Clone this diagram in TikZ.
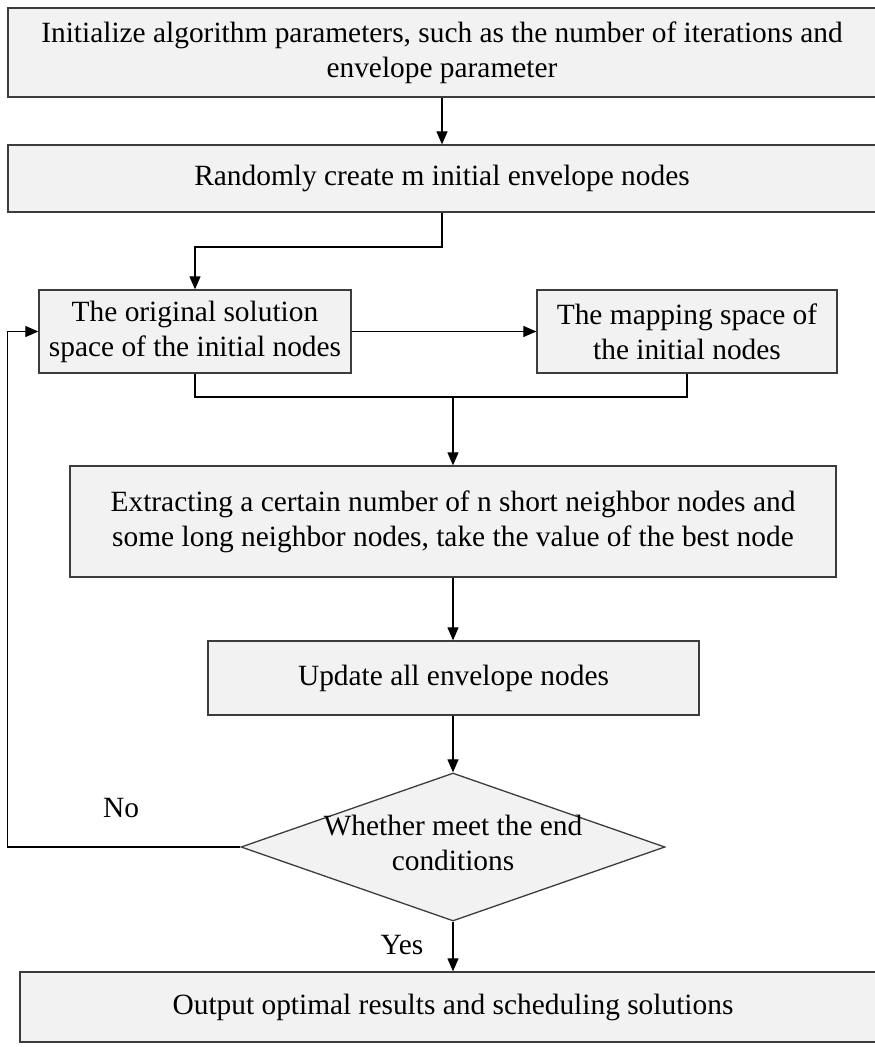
\documentclass[tikz,border=0pt]{standalone}
\usepackage{fontspec}
\setmainfont{Liberation Serif}
\usetikzlibrary{arrows.meta,shapes.geometric}
\definecolor{boxfill}{RGB}{242,242,242}
\definecolor{boxline}{RGB}{60,60,60}
\begin{document}
\begin{tikzpicture}[x=1bp,y=-1bp,
  txt/.style={font=\fontsize{29.5}{35}\selectfont, align=center},
  box/.style={txt, draw=boxline, fill=boxfill, line width=1.3bp, inner sep=0pt},
  link/.style={line width=1.2bp, draw=black},
  arr/.style={link, -{Triangle[length=13bp,width=11bp]}}]
\useasboundingbox (0,0) rectangle (875,1047);

% process boxes
\node[box, minimum width=868bp, minimum height=89bp] (init) at (442,52.5)
  {Initialize algorithm parameters, such as the number of iterations and\\envelope parameter};
\node[box, minimum width=868bp, minimum height=67bp] (create) at (442,178.5)
  {Randomly create m initial envelope nodes};
\node[box, minimum width=312bp, minimum height=83bp] (orig) at (195,331.5)
  {The original solution\\space of the initial nodes};
\node[box, minimum width=300bp, minimum height=83bp] (map) at (687,331.5)
  {The mapping space of\\the initial nodes};
\node[box, minimum width=766bp, minimum height=111bp] (extract) at (453,521.5)
  {Extracting a certain number of n short neighbor nodes and\\some long neighbor nodes, take the value of the best node};
\node[box, minimum width=491bp, minimum height=74bp] (update) at (453.5,678)
  {Update all envelope nodes};
\node[diamond, draw=boxline, fill=boxfill, line width=1.3bp, inner sep=0pt,
  minimum width=424bp, minimum height=148bp] (cond) at (453,847) {};
\node[txt] (condtext) at (453,843) {Whether meet the end\\conditions};
\node[box, minimum width=866bp, minimum height=70bp] (output) at (453,1007)
  {Output optimal results and scheduling solutions};

% branch labels
\node[txt] (no) at (121,808) {No};
\node[txt] (yes) at (402,945) {Yes};

% connectors
\coordinate (j1) at (442,247);
\coordinate (j2) at (453,397);
\coordinate (j3) at (7.5,847);
\draw[arr] (init.south) -- (create.north);
\draw[arr] (create.south) -- (j1) -| (orig.north);
\draw[arr] (orig.east) -- (map.west);
\draw[link] (orig.south) -- (orig.south |- j2) -- (map.south |- j2) -- (map.south);
\draw[arr] (j2) -- (extract.north);
\draw[arr] (extract.south) -- (extract.south |- update.north);
\draw[arr] (update.south -| cond.north) -- (cond.north);
\draw[arr] (cond.west) -- (j3) |- (orig.west);
\draw[arr] (cond.south) -- (output.north);
\end{tikzpicture}
\end{document}
